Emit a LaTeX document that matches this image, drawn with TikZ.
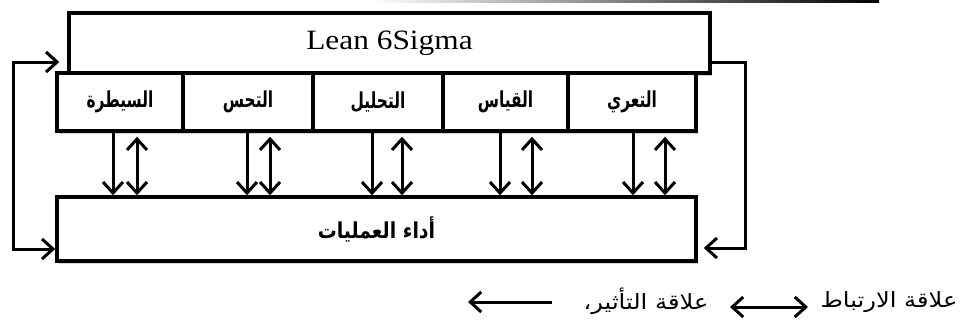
\documentclass[tikz,border=0pt]{standalone}
\usepackage{fontspec}
\usepackage{graphicx}
\setmainfont{Liberation Serif}
\newfontfamily\arabicfont[Script=Arabic]{DejaVu Sans}
\TeXXeTstate=1
\usetikzlibrary{arrows.meta,shadows,calc}
\tikzset{
  box/.style={draw=black, line width=3.5pt, fill=white, rectangle, inner sep=0pt,
    drop shadow={shadow xshift=2pt, shadow yshift=-2.5pt, opacity=.35, fill=gray}},
  lbl/.style={font=\arabicfont\bfseries\fontsize{22}{24}\selectfont},
  inf/.style={line width=3pt, -{Straight Barb[length=11pt,width=20pt,line width=3pt]}},
  corr/.style={line width=3pt, {Straight Barb[length=11pt,width=20pt,line width=3pt]}-{Straight Barb[length=11pt,width=20pt,line width=3pt]}},
  leg/.style={font=\arabicfont\fontsize{21}{23}\selectfont},
}
\newcommand{\ar}[2][1]{\scalebox{#1}[1]{\beginR #2\endR}}
\begin{document}
\begin{tikzpicture}[x=1pt,y=-1pt]
\useasboundingbox (0,0) rectangle (962,324);
% top fading rule
\shade[left color=white, right color=black] (370,0.5) rectangle (879,2.5);

\node[box, minimum width=641pt, minimum height=60pt] (lean) at (389.5,43)
  {\fontsize{28}{32}\selectfont\scalebox{1.12}[1]{Lean 6Sigma}};

\node[box, lbl, minimum width=126pt, minimum height=58pt] (b1) at (120,102) {\ar[0.7]{السيطرة}};
\node[box, lbl, minimum width=130pt, minimum height=58pt] (b2) at (248,102) {\ar[0.7]{التحس}};
\node[box, lbl, minimum width=130pt, minimum height=58pt] (b3) at (378,102) {\ar[0.7]{التحليل}};
\node[box, lbl, minimum width=125pt, minimum height=58pt] (b4) at (505.5,102) {\ar[0.7]{القياس}};
\node[box, lbl, minimum width=128pt, minimum height=58pt] (b5) at (632,102) {\ar[0.7]{التعري}};

\node[box, lbl, minimum width=639pt, minimum height=64pt] (perf) at (376.5,229) {\ar[0.86]{أداء العمليات}};

\foreach \b/\da/\db in {b1/-7/17, b2/-1/22, b3/-6/24, b4/-5.5/26.5, b5/1/33}{
  \draw[inf] ([xshift=\da pt]\b.south) -- ([xshift=\da pt]\b.south |- perf.north);
  \draw[corr, shorten <=4pt] ([xshift=\db pt]\b.south) -- ([xshift=\db pt]\b.south |- perf.north);
}

% feedback loops
\coordinate (fbTL) at (13,62);
\coordinate (fbBL) at (13,249);
\coordinate (fbTR) at (745,62);
\coordinate (fbBR) at (745,248);
\draw[corr] ($(lean.west |- fbTL)+(-8,0)$) -- (fbTL) -- (fbBL) -- (perf.west |- fbBL);
\draw[inf] (lean.east |- fbTR) -- (fbTR) -- (fbBR) -- ($(perf.east |- fbBR)+(6,0)$);

% legend
\node[leg, anchor=east] (lg1) at (961,302) {\ar[1.15]{علاقة الارتباط}};
\coordinate (c1) at (808,307);
\coordinate (c2) at (730,307);
\draw[corr] (c1) -- (c2);
\node[leg] (lg2) at (646,301) {\scalebox{1.15}[1]{،}\ar[1.15]{علاقة التأثير}};
\coordinate (i1) at (552,302);
\coordinate (i2) at (468,302);
\draw[inf] (i1) -- (i2);
\end{tikzpicture}
\end{document}
